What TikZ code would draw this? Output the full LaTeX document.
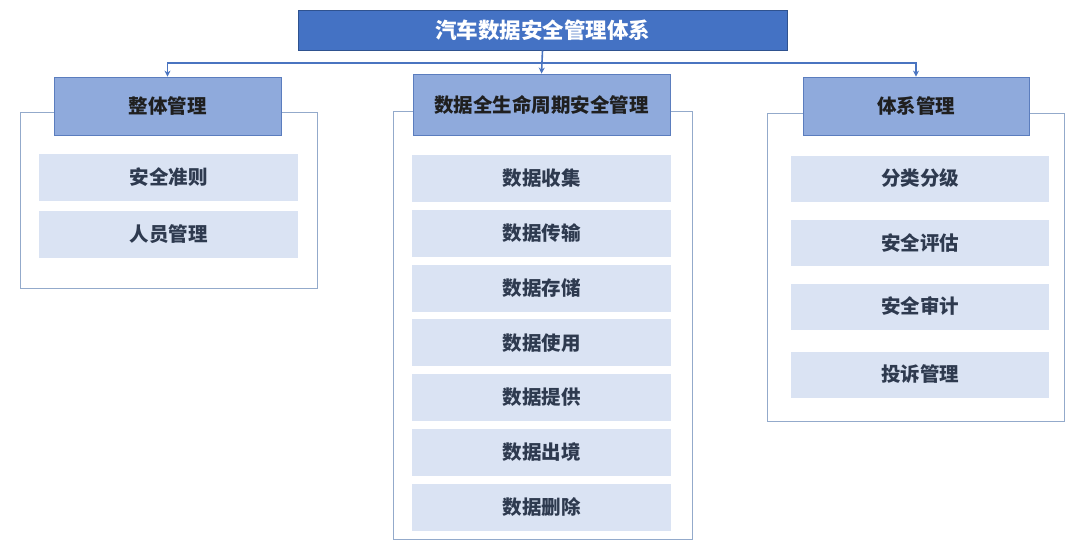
\documentclass[tikz,border=0pt]{standalone}
\usepackage{fontspec}
\setmainfont{Noto Sans CJK SC}
\usetikzlibrary{arrows.meta}
\definecolor{titleblue}{HTML}{4472C4}
\definecolor{titleedge}{HTML}{2F528F}
\definecolor{headblue}{HTML}{8FAADC}
\definecolor{headedge}{HTML}{5B7DBE}
\definecolor{itemblue}{HTML}{DAE3F3}
\definecolor{itemtext}{HTML}{2E3A4F}
\definecolor{frameedge}{HTML}{93AACB}
\definecolor{linkblue}{HTML}{4A74C0}
\begin{document}
\begin{tikzpicture}[x=1pt, y=-1pt,
    titlebox/.style={draw=titleedge, fill=titleblue, text=white, line width=1pt,
      font=\bfseries\fontsize{21.5}{25}\selectfont, minimum width=489pt, minimum height=40pt, inner sep=0pt},
    headbox/.style={draw=headedge, fill=headblue, text=black!88, line width=0.8pt,
      font=\bfseries\fontsize{19.5}{23}\selectfont, minimum height=58pt, inner sep=0pt},
    itembox/.style={fill=itemblue, text=itemtext,
      font=\bfseries\fontsize{19.5}{23}\selectfont, minimum width=259pt, minimum height=47pt, inner sep=0pt},
    framebox/.style={draw=frameedge, fill=white, line width=0.8pt},
    link/.style={draw=linkblue, line width=1.6pt},
    tip/.style={-{Stealth[length=6pt, width=6pt]}}]
      \useasboundingbox (0, 0) rectangle (1080, 546);
      % outer frames
      \draw[framebox] (20, 112) rectangle (317, 288);
      \draw[framebox] (393, 111) rectangle (692, 539);
      \draw[framebox] (767, 113) rectangle (1064, 421);
      % title and headings
      \node[titlebox] (top) at (542.5, 30) {汽车数据安全管理体系};
      \node[headbox, minimum width=227pt] (h1) at (167.5, 106) {整体管理};
      \node[headbox, minimum width=257pt, minimum height=61pt] (h2) at (541.5, 104.5) {数据全生命周期安全管理};
      \node[headbox, minimum width=226pt] (h3) at (916, 106) {体系管理};
      \coordinate (bus) at (542.5, 63);
      \draw[link] (top.south) -- (bus);
      \draw[link, tip] (bus) -| (h1.north);
      \draw[link, tip] (bus) -| (h3.north);
      \draw[link, tip] (top.south) -- (h2.north);
      % left column
      \node[itembox] (a1) at (168.5, 177.5) {安全准则};
      \node[itembox] (a2) at (168.5, 234) {人员管理};
      % middle column
      \foreach \txt [count=\i] in {数据收集, 数据传输, 数据存储, 数据使用, 数据提供, 数据出境, 数据删除}
        \node[itembox] (m\i) at (541.5, {178.5 + 54.75*(\i - 1)}) {\txt};
      % right column
      \node[itembox, minimum width=258pt, minimum height=46pt] (r1) at (920, 178.5) {分类分级};
      \node[itembox, minimum width=258pt, minimum height=46pt] (r2) at (920, 243) {安全评估};
      \node[itembox, minimum width=258pt, minimum height=46pt] (r3) at (920, 306.5) {安全审计};
      \node[itembox, minimum width=258pt, minimum height=46pt] (r4) at (920, 374.5) {投诉管理};
    \end{tikzpicture}
\end{document}
